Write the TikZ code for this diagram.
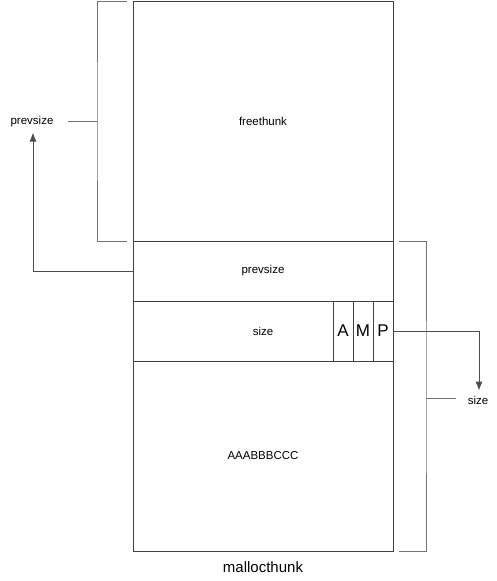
\documentclass[tikz,border=0pt]{standalone}
\usepackage{fontspec}
\setmainfont{Liberation Sans}
\usetikzlibrary{arrows}
\usetikzlibrary{arrows.meta}

\begin{document}
\begin{tikzpicture}[x=1pt,y=-1pt,
  field/.style={draw=black!75,line width=0.9pt,minimum width=260pt,inner sep=0pt,font=\fontsize{11.5}{13}\selectfont},
  flag/.style={draw=black!75,line width=0.9pt,minimum width=20pt,minimum height=60pt,inner sep=0pt,font=\fontsize{17}{19}\selectfont},
  brace/.style={draw=black!55,line width=0.9pt},
  link/.style={draw=black!70,line width=0.9pt,arrows={-Latex[length=9pt,width=7pt]}},
  lbl/.style={font=\fontsize{11.5}{13}\selectfont,inner sep=2pt}]
\useasboundingbox (0,0) rectangle (496,581);
\node[field,minimum height=240pt] (free) at (263,121) {freethunk};
\node[field,minimum height=60pt] (prev) at (263,271) {prevsize};
\node[field,minimum height=60pt] (size) at (263,331) {size};
\node[flag] (A) at (343,331) {A};
\node[flag] (M) at (363,331) {M};
\node[flag] (P) at (383,331) {P};
\node[field,minimum height=190pt] (data) at (263,456) {AAABBBCCC};
\node[font=\fontsize{15}{17}\selectfont] (title) at (263,567) {mallocthunk};
% brackets
\node[lbl] (lprev) at (32,122) {prevsize};
\node[lbl] (rsize) at (478,400) {size};
\coordinate (lt) at (97,121);
\coordinate (rt) at (426,398);
\draw[brace] (127,1) -| (lt) |- (127,241);
\draw[brace] (lt) -- (68,121);
\draw[brace] (399,241) -| (rt) |- (399,551);
\draw[brace] (rt) -- (456,398);
% arrows
\draw[link] (prev.west) -| ([xshift=1pt,yshift=-3pt]lprev.south);
\draw[link] (P.east) -| ([xshift=1pt,yshift=3pt]rsize.north);
\end{tikzpicture}
\end{document}
